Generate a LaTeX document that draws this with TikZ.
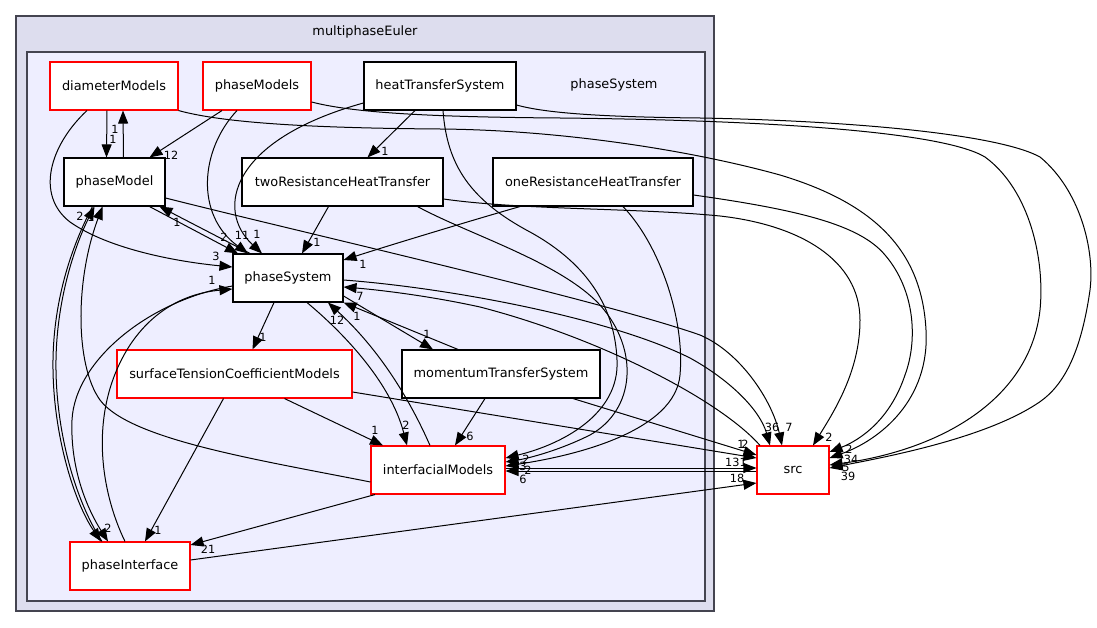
\documentclass[tikz,border=0pt]{standalone}
\usepackage{fontspec}
\setmainfont{DejaVu Sans}
\usetikzlibrary{arrows.meta}
\definecolor{outerfill}{HTML}{DDDDEE}
\definecolor{innerfill}{HTML}{EEEEFF}
\definecolor{clborder}{HTML}{444450}
\tikzset{
  dirbox/.style={draw=black, fill=white, line width=1.1pt, minimum height=48pt, inner sep=0pt, font=\fontsize{12.9}{14}\selectfont},
  reddir/.style={dirbox, draw=red},
  dep/.style={line width=1pt, -{Triangle[length=13pt,width=10pt]}},
  lbl/.style={font=\fontsize{11.3}{12}\selectfont, inner sep=0pt},
  cluster/.style={draw=clborder, line width=1.4pt},
  cltext/.style={font=\fontsize{12.9}{14}\selectfont, inner sep=0pt},
}
\begin{document}
\begin{tikzpicture}[x=1pt,y=-1pt]
\useasboundingbox (0,0) rectangle (1097,628);
\fill[white] (0,0) rectangle (1097,628);
% clusters
\draw[cluster, fill=outerfill] (16,16) rectangle (714,611);
\node[cltext] (lmulti) at (365,32) {multiphaseEuler};
\draw[cluster, fill=innerfill] (27,52) rectangle (705,601);
\node[cltext] (lps) at (614,85) {phaseSystem};

% nodes
\node[reddir, minimum width=128pt] (dm) at (114,86) {diameterModels};
\node[reddir, minimum width=108pt] (pms) at (257,86) {phaseModels};
\node[dirbox, minimum width=152pt] (hts) at (440,86) {heatTransferSystem};
\node[dirbox, minimum width=101pt] (pm) at (114.5,182) {phaseModel};
\node[dirbox, minimum width=201pt] (two) at (342.5,182) {twoResistanceHeatTransfer};
\node[dirbox, minimum width=200pt] (one) at (593,182) {oneResistanceHeatTransfer};
\node[dirbox, minimum width=110pt] (ps) at (288,278) {phaseSystem};
\node[reddir, minimum width=235pt] (stc) at (234.5,374) {surfaceTensionCoefficientModels};
\node[dirbox, minimum width=198pt] (mts) at (501,374) {momentumTransferSystem};
\node[reddir, minimum width=134pt] (im) at (438,470) {interfacialModels};
\node[reddir, minimum width=120pt] (pi) at (130,566) {phaseInterface};
\node[reddir, minimum width=72pt] (src) at (793,470) {src};

% edges
\draw[dep] ([xshift=-7pt]dm.south) -- ([xshift=-8pt]pm.north);
\node[lbl] at (113,139) {1};
\draw[dep] ([xshift=9pt]pm.north) -- ([xshift=9pt]dm.south);
\node[lbl] at (115,129) {1};
\draw[dep] ([xshift=-35pt]pms.south) -- ([xshift=35pt]pm.north);
\node[lbl] at (171,155) {12};
\draw[dep] ([xshift=-20pt]pms.south) .. controls (200,150) and (195,215) .. ([xshift=-40pt]ps.north);
\node[lbl] at (242,235) {11};
\draw[dep] ([yshift=-17pt]hts.west) .. controls (230,140) and (215,210) .. ([xshift=-26pt]ps.north);
\node[lbl] at (257,234) {1};
\draw[dep] ([xshift=-25pt]hts.south) -- ([xshift=25pt]two.north);
\node[lbl] at (385,151) {1};
\draw[dep] ([xshift=3pt]hts.south) .. controls (447,165) and (470,200) .. (530,232) .. controls (590,265) and (615,310) .. (617,360) .. controls (620,415) and (560,445) .. ([yshift=12pt]im.east);
\node[lbl] at (523,466) {3};
\draw[dep] ([xshift=75pt]two.south) .. controls (470,235) and (560,262) .. (600,305) .. controls (640,350) and (635,410) .. (590,435) .. controls (560,450) and (530,458) .. ([yshift=8pt]im.east);
\node[lbl] at (526,459) {2};
\draw[dep] ([xshift=30pt]one.south) .. controls (660,245) and (685,320) .. (680,375) .. controls (675,430) and (580,455) .. ([yshift=4pt]im.east);
\node[lbl] at (528,470) {2};
\draw[dep] ([yshift=-1pt]src.west) -- ([yshift=-1pt]im.east);
\node[lbl] at (523,479) {6};
\draw[dep] ([yshift=2pt]im.east) -- ([yshift=2pt]src.west);
\node[lbl] at (736,462) {131};
\draw[dep] ([xshift=-14pt]two.south) -- ([xshift=14pt]ps.north);
\node[lbl] at (317,242) {1};
\draw[dep] ([yshift=-17pt]two.east) .. controls (520,210) and (640,208) .. (720,216) .. controls (800,225) and (860,260) .. (860,320) .. controls (860,370) and (835,410) .. ([xshift=20pt]src.north);
\node[lbl] at (829,437) {2};
\draw[dep] ([xshift=-73pt]one.south) .. controls (480,218) and (400,242) .. ([yshift=18pt]ps.east);
\node[lbl] at (363,264) {1};
\draw[dep] ([yshift=-13pt]one.east) .. controls (800,210) and (860,225) .. (885,255) .. controls (915,290) and (918,340) .. (905,375) .. controls (890,420) and (860,440) .. ([yshift=18pt]src.east);
\node[lbl] at (849,449) {2};
\draw[dep] (dm.south east) .. controls (220,122) and (300,128) .. (440,129) .. controls (560,130) and (690,150) .. (780,175) .. controls (880,205) and (922,255) .. (926,330) .. controls (930,400) and (880,440) .. ([yshift=12pt]src.east);
\node[lbl] at (851,459) {34};
\draw[dep] ([yshift=-16pt]pms.east) .. controls (350,112) and (420,117) .. (560,118) .. controls (750,120) and (940,130) .. (985,157) .. controls (1030,190) and (1045,260) .. (1040,310) .. controls (1030,400) and (940,450) .. ([yshift=5pt]src.east);
\node[lbl] at (846,467) {5};
\draw[dep] ([yshift=-19pt]hts.east) .. controls (545,113) and (600,117) .. (700,118) .. controls (860,121) and (1000,135) .. (1040,157) .. controls (1080,190) and (1095,250) .. (1090,290) .. controls (1080,360) and (1060,390) .. (1035,405) .. controls (980,440) and (880,458) .. ([yshift=2pt]src.east);
\node[lbl] at (848,476) {39};
\draw[dep] ([yshift=-16pt]pm.east) .. controls (300,232) and (600,300) .. (700,335) .. controls (740,352) and (772,400) .. ([xshift=-11pt]src.north);
\node[lbl] at (789,427) {7};
\draw[dep] ([yshift=-2pt]ps.east) .. controls (450,288) and (610,318) .. (690,358) .. controls (730,380) and (760,410) .. ([xshift=-23pt]src.north);
\node[lbl] at (772,427) {36};
\draw[dep] ([xshift=-33pt]src.north) .. controls (720,400) and (600,338) .. (480,307) .. controls (430,296) and (380,290) .. ([yshift=-9pt]ps.east);
\node[lbl] at (360,296) {7};
\draw[dep] ([xshift=-43pt]mts.north) -- (ps.south east);
\node[lbl] at (357,316) {1};
\draw[dep] ([yshift=-18pt]ps.east) -- ([xshift=-68pt]mts.north);
\node[lbl] at (427,334) {1};
\draw[dep] ([xshift=-14pt]ps.south) -- ([xshift=18pt]stc.north);
\node[lbl] at (263,337) {1};
\draw[dep] ([xshift=19pt]ps.south) .. controls (340,330) and (390,380) .. ([xshift=-31pt]im.north);
\node[lbl] at (406,425) {2};
\draw[dep] ([xshift=-8pt]im.north) .. controls (410,400) and (380,350) .. ([xshift=40pt]ps.south);
\node[lbl] at (337,320) {12};
\draw[dep] ([xshift=50pt]stc.south) -- ([xshift=-55pt]im.north);
\node[lbl] at (375,430) {1};
\draw[dep] ([yshift=-18pt]stc.east) -- ([yshift=12pt]src.west);
\node[lbl] at (741,444) {1};
\draw[dep] ([xshift=72pt]mts.south) -- ([yshift=15pt]src.west);
\node[lbl] at (745,444) {2};
\draw[dep] ([xshift=-16pt]mts.south) -- ([xshift=17pt]im.north);
\node[lbl] at (470,436) {6};
\draw[dep] ([xshift=-63pt]im.south) -- ([yshift=21pt]pi.east);
\node[lbl] at (208,549) {21};
\draw[dep] ([yshift=6pt]pi.east) -- ([yshift=-13pt]src.west);
\node[lbl] at (737,478) {18};
\draw[dep] ([xshift=-11pt]stc.south) -- ([xshift=15pt]pi.north);
\node[lbl] at (158,530) {1};
\draw[dep] ([xshift=-27pt]dm.south) .. controls (50,145) and (35,195) .. (70,222) .. controls (110,250) and (180,262) .. ([yshift=11pt]ps.west);
\node[lbl] at (216,256) {3};
\draw[dep] ([xshift=35pt]pm.south) -- ([xshift=-50pt]ps.north);
\node[lbl] at (224,237) {2};
\draw[dep] ([xshift=-38pt]ps.north) -- ([xshift=45pt]pm.south);
\node[lbl] at (177,222) {1};
\draw[dep] ([xshift=-28pt]pi.north) .. controls (75,500) and (55,430) .. (56,360) .. controls (57,290) and (80,235) .. ([xshift=-20pt]pm.south);
\node[lbl] at (80,216) {2};
\draw[dep] ([xshift=-22pt]pm.south) .. controls (77,236) and (54,290) .. (53,360) .. controls (52,432) and (74,502) .. ([xshift=-29pt]pi.north);
\node[lbl] at (108,528) {2};
\draw[dep] ([yshift=-12pt]im.west) .. controls (260,460) and (130,440) .. (100,400) .. controls (75,365) and (75,280) .. ([xshift=-12pt]pm.south);
\node[lbl] at (91,217) {1};
\draw[dep] ([yshift=-8pt]ps.west) .. controls (150,300) and (75,360) .. (72,420) .. controls (70,470) and (88,510) .. ([xshift=-22pt]pi.north);
\draw[dep] ([xshift=-5pt]pi.north) .. controls (100,490) and (88,410) .. (130,345) .. controls (160,300) and (200,292) .. ([yshift=-11pt]ps.west);
\node[lbl] at (212,280) {1};
\end{tikzpicture}
\end{document}
